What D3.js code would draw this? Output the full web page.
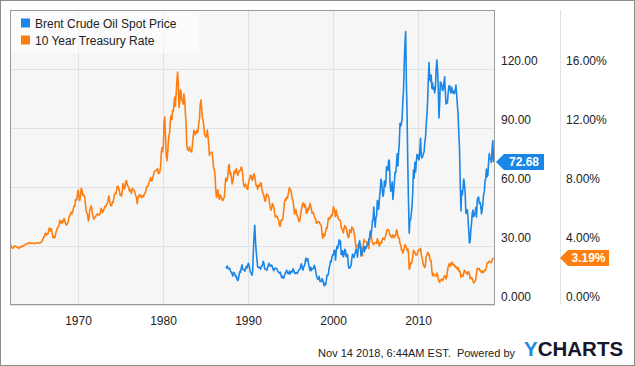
<!DOCTYPE html>
<html>
  <head>
    <meta charset="utf-8">
    <script src="https://d3js.org/d3.v7.min.js"></script>
    <title>Brent vs 10 Year Treasury</title>
    <style>
      body {
        margin: 0px;
        background: #ffffff;
      }
      text {
        font-family: 'Liberation Sans', Arial, sans-serif;
      }
      .tick text {
        fill: #222222;
        font-size: 12px;
      }
      .legend-text {
        fill: #222222;
        font-size: 12px;
      }
      .footer {
        fill: #222222;
        font-size: 11px;
        white-space: pre;
      }
      .flag-text {
        fill: #ffffff;
        font-size: 12px;
        font-weight: bold;
      }
    </style>
  </head>
  <body>
    <script>
      // monthly values, Jan 1962 .. Nov 2018 (%)
      const treasuryStartYear = 1962;
      const treasuryRate = [
        4.08, 4.04, 3.93, 3.84, 3.87, 3.91, 4.01, 3.98, 3.98, 3.93, 3.92, 3.86,
        3.83, 3.92, 3.93, 3.97, 3.93, 3.99, 4.02, 4.00, 4.08, 4.11, 4.12, 4.13,
        4.17, 4.15, 4.22, 4.23, 4.20, 4.17, 4.19, 4.19, 4.20, 4.19, 4.15, 4.18,
        4.19, 4.21, 4.21, 4.20, 4.21, 4.21, 4.20, 4.25, 4.29, 4.35, 4.45, 4.62,
        4.61, 4.83, 4.87, 4.75, 4.78, 4.81, 5.02, 5.22, 5.18, 5.01, 5.16, 4.84,
        4.58, 4.63, 4.54, 4.59, 4.85, 5.02, 5.16, 5.28, 5.30, 5.48, 5.75, 5.70,
        5.53, 5.56, 5.74, 5.64, 5.87, 5.72, 5.50, 5.42, 5.46, 5.58, 5.70, 6.03,
        6.04, 6.19, 6.30, 6.17, 6.32, 6.57, 6.72, 6.69, 7.16, 7.10, 7.14, 7.65,
        7.79, 7.24, 7.07, 7.39, 7.91, 7.84, 7.46, 7.53, 7.39, 7.33, 6.84, 6.39,
        6.24, 6.11, 5.70, 5.83, 6.39, 6.52, 6.73, 6.58, 6.14, 5.93, 5.81, 5.93,
        5.95, 6.08, 6.07, 6.19, 6.13, 6.11, 6.11, 6.21, 6.55, 6.48, 6.28, 6.36,
        6.46, 6.64, 6.71, 6.67, 6.85, 6.90, 7.13, 7.40, 7.09, 6.79, 6.73, 6.74,
        6.99, 6.96, 7.21, 7.51, 7.58, 7.54, 7.81, 8.04, 8.04, 7.90, 7.68, 7.43,
        7.50, 7.39, 7.73, 8.23, 8.06, 7.86, 8.06, 8.40, 8.43, 8.14, 8.05, 8.00,
        7.74, 7.79, 7.73, 7.56, 7.90, 7.86, 7.83, 7.77, 7.59, 7.41, 7.29, 6.87,
        7.21, 7.39, 7.46, 7.37, 7.46, 7.28, 7.33, 7.40, 7.34, 7.52, 7.58, 7.69,
        7.96, 8.03, 8.04, 8.15, 8.35, 8.46, 8.64, 8.41, 8.42, 8.64, 8.81, 9.01,
        9.10, 9.10, 9.12, 9.18, 9.25, 8.91, 8.95, 9.03, 9.33, 10.30, 10.65, 10.39,
        10.80, 12.41, 12.75, 11.47, 10.18, 9.78, 10.25, 11.10, 11.51, 11.75, 12.68, 12.84,
        12.57, 13.19, 13.12, 13.68, 14.10, 13.47, 14.28, 15.10, 15.80, 15.15, 13.39, 13.72,
        14.59, 14.43, 13.86, 13.87, 13.62, 14.30, 13.95, 13.06, 12.34, 10.91, 10.55, 10.54,
        10.46, 10.72, 10.51, 10.40, 10.38, 10.85, 11.38, 11.85, 11.65, 11.54, 11.69, 11.83,
        11.67, 11.84, 12.32, 12.63, 13.60, 13.90, 13.36, 12.72, 12.52, 12.16, 11.57, 11.50,
        11.38, 11.51, 11.86, 11.43, 10.85, 10.16, 10.31, 10.33, 10.37, 10.24, 9.78, 9.26,
        9.19, 8.70, 7.78, 7.30, 7.71, 7.80, 7.30, 7.17, 7.45, 7.43, 7.25, 7.11,
        7.08, 7.25, 7.25, 8.02, 8.61, 8.40, 8.45, 8.76, 9.42, 9.52, 8.86, 8.99,
        8.67, 8.21, 8.37, 8.72, 9.09, 8.92, 9.06, 9.26, 8.98, 8.80, 8.96, 9.11,
        9.09, 9.17, 9.36, 9.18, 8.86, 8.28, 8.02, 8.11, 8.19, 8.01, 7.87, 7.84,
        8.21, 8.47, 8.59, 8.79, 8.76, 8.48, 8.47, 8.75, 8.89, 8.72, 8.39, 8.08,
        8.09, 7.85, 8.11, 8.04, 8.07, 8.28, 8.27, 7.90, 7.65, 7.53, 7.42, 7.09,
        7.03, 7.34, 7.54, 7.48, 7.39, 7.26, 6.84, 6.59, 6.42, 6.59, 6.87, 6.77,
        6.60, 6.26, 5.98, 5.97, 6.04, 5.96, 5.81, 5.68, 5.36, 5.33, 5.72, 5.77,
        5.75, 5.97, 6.48, 6.97, 7.18, 7.10, 7.30, 7.24, 7.46, 7.74, 7.96, 7.81,
        7.78, 7.47, 7.20, 7.06, 6.63, 6.17, 6.28, 6.49, 6.20, 6.04, 5.93, 5.71,
        5.65, 5.81, 6.27, 6.51, 6.74, 6.91, 6.87, 6.64, 6.83, 6.53, 6.20, 6.30,
        6.58, 6.42, 6.69, 6.89, 6.71, 6.49, 6.22, 6.30, 6.21, 6.03, 5.88, 5.81,
        5.54, 5.57, 5.65, 5.64, 5.65, 5.50, 5.46, 5.34, 4.81, 4.53, 4.83, 4.65,
        4.72, 5.00, 5.23, 5.18, 5.54, 5.90, 5.79, 5.94, 5.92, 6.11, 6.03, 6.28,
        6.66, 6.52, 6.26, 5.99, 6.44, 6.10, 6.05, 5.83, 5.80, 5.74, 5.72, 5.24,
        5.16, 5.10, 4.89, 5.14, 5.39, 5.28, 5.24, 4.97, 4.73, 4.57, 4.65, 5.09,
        5.04, 4.91, 5.28, 5.21, 5.16, 4.93, 4.65, 4.26, 3.87, 3.94, 4.05, 4.03,
        4.05, 3.90, 3.81, 3.96, 3.57, 3.33, 3.98, 4.45, 4.27, 4.29, 4.30, 4.27,
        4.15, 4.08, 3.83, 4.35, 4.72, 4.73, 4.50, 4.28, 4.13, 4.10, 4.19, 4.23,
        4.22, 4.17, 4.50, 4.34, 4.14, 4.00, 4.18, 4.26, 4.20, 4.46, 4.54, 4.47,
        4.42, 4.57, 4.72, 4.99, 5.11, 5.11, 5.09, 4.88, 4.72, 4.73, 4.60, 4.56,
        4.76, 4.72, 4.56, 4.69, 4.75, 5.10, 5.00, 4.67, 4.52, 4.53, 4.15, 4.10,
        3.74, 3.74, 3.51, 3.68, 3.88, 4.10, 4.01, 3.89, 3.69, 3.81, 3.53, 2.42,
        2.52, 2.87, 2.82, 2.93, 3.29, 3.72, 3.56, 3.59, 3.40, 3.39, 3.40, 3.59,
        3.73, 3.69, 3.73, 3.85, 3.42, 3.20, 3.01, 2.70, 2.65, 2.54, 2.76, 3.29,
        3.39, 3.58, 3.41, 3.46, 3.17, 3.00, 3.00, 2.30, 1.98, 2.15, 2.01, 1.98,
        1.97, 1.97, 2.17, 2.05, 1.80, 1.62, 1.53, 1.68, 1.72, 1.75, 1.65, 1.72,
        1.91, 1.98, 1.96, 1.76, 1.93, 2.30, 2.58, 2.74, 2.81, 2.62, 2.72, 2.90,
        2.86, 2.71, 2.72, 2.71, 2.56, 2.60, 2.54, 2.42, 2.53, 2.30, 2.33, 2.21,
        1.88, 1.98, 2.04, 1.94, 2.20, 2.36, 2.32, 2.17, 2.17, 2.07, 2.26, 2.24,
        2.09, 1.78, 1.89, 1.81, 1.81, 1.64, 1.50, 1.56, 1.63, 1.76, 2.14, 2.49,
        2.43, 2.42, 2.48, 2.30, 2.30, 2.19, 2.32, 2.21, 2.20, 2.36, 2.35, 2.40,
        2.58, 2.86, 2.84, 2.87, 2.98, 2.91, 2.89, 2.89, 3.00, 3.15, 3.19
      ];

      // monthly values, May 1987 .. Nov 2018 (USD)
      const brentStartYear = 1987;
      const brentStartMonth = 4; // 0-based, May
      const brentPrice = [
        18.58, 18.86, 19.86, 18.98, 18.31, 18.76, 18.34, 16.87,
        16.73, 15.73, 14.73, 16.60, 16.31, 15.49, 14.37, 14.68, 13.07, 12.41, 13.19, 15.55,
        17.08, 16.73, 18.95, 20.40, 18.38, 17.87, 17.90, 17.17, 18.40, 19.54, 18.80, 20.30,
        21.25, 19.81, 18.39, 16.61, 16.35, 15.10, 17.17, 27.17, 35.00, 40.50, 32.82, 27.28,
        23.57, 19.54, 19.08, 19.18, 19.19, 18.17, 19.40, 19.77, 20.50, 22.21, 21.11, 18.41,
        18.16, 18.05, 17.63, 18.92, 19.89, 21.16, 20.24, 19.74, 20.27, 20.27, 19.16, 18.01,
        17.44, 18.55, 18.63, 18.60, 18.50, 17.64, 16.86, 16.67, 16.08, 16.71, 15.25, 13.84,
        14.63, 13.85, 13.69, 15.12, 16.20, 16.61, 17.70, 16.79, 15.87, 16.00, 17.27, 15.74,
        16.61, 17.19, 16.85, 18.41, 17.74, 16.55, 15.97, 16.37, 16.46, 16.09, 16.74, 17.70,
        18.02, 18.22, 20.24, 20.88, 18.76, 17.72, 19.27, 19.81, 21.43, 23.81, 22.41, 23.34,
        23.54, 20.67, 19.07, 17.46, 19.20, 17.53, 18.55, 18.50, 18.66, 20.19, 19.08, 17.12,
        15.23, 13.83, 13.00, 13.36, 14.52, 11.95, 12.01, 11.92, 13.38, 12.65, 11.04, 9.75,
        11.06, 10.21, 12.38, 15.27, 15.07, 15.78, 18.87, 20.17, 22.43, 21.96, 24.53, 25.48,
        25.51, 27.78, 27.49, 22.76, 27.74, 29.80, 28.68, 30.20, 33.14, 30.96, 32.55, 25.66,
        25.62, 27.50, 24.50, 25.66, 28.31, 27.85, 24.61, 25.68, 25.62, 20.54, 18.80, 18.71,
        19.42, 20.28, 23.70, 25.73, 25.35, 24.08, 25.74, 26.65, 28.40, 27.54, 24.34, 28.33,
        31.18, 32.77, 30.61, 25.00, 25.86, 27.65, 28.35, 29.89, 27.11, 29.61, 28.75, 29.81,
        31.28, 30.86, 33.63, 33.59, 37.57, 35.18, 38.22, 42.74, 43.20, 49.78, 43.11, 39.60,
        44.51, 45.48, 53.10, 51.88, 48.65, 54.35, 57.52, 63.98, 62.91, 58.54, 55.24, 56.86,
        62.99, 60.21, 62.06, 70.26, 69.78, 68.56, 73.67, 73.23, 61.96, 57.81, 58.76, 62.47,
        53.68, 57.56, 62.05, 67.49, 67.21, 71.05, 76.93, 70.76, 77.17, 82.34, 92.41, 90.93,
        92.18, 94.99, 103.64, 109.07, 122.80, 133.00, 139.00, 113.24, 97.23, 71.58, 52.45, 36.50,
        43.44, 43.32, 46.54, 50.18, 57.30, 68.61, 64.44, 72.51, 67.65, 72.77, 76.66, 74.46,
        76.17, 73.75, 78.83, 84.82, 75.95, 74.76, 75.58, 77.04, 77.84, 82.67, 85.28, 91.45,
        96.52, 103.72, 114.64, 123.26, 114.99, 113.83, 116.97, 110.22, 112.83, 109.55, 110.77, 107.87,
        110.69, 119.33, 124.50, 119.75, 110.34, 95.16, 102.62, 113.36, 112.86, 111.71, 109.06, 109.49,
        112.96, 116.05, 108.47, 102.25, 102.56, 102.92, 107.93, 111.28, 111.60, 109.08, 107.79, 110.76,
        108.12, 108.90, 107.48, 107.76, 109.54, 111.80, 106.77, 101.61, 97.09, 87.43, 79.44, 62.34,
        47.76, 58.10, 55.89, 59.52, 64.08, 61.48, 56.56, 46.52, 47.62, 48.43, 44.27, 38.01,
        31.50, 32.18, 38.21, 41.58, 46.74, 48.25, 44.95, 45.84, 46.57, 49.52, 44.73, 53.31,
        54.58, 54.87, 51.59, 52.31, 50.33, 46.37, 48.48, 51.70, 56.15, 57.51, 62.71, 64.37,
        69.08, 65.32, 66.02, 72.11, 76.98, 74.41, 74.25, 72.53, 78.89, 83.50, 72.68
      ];

      const yearTicks = [1970, 1980, 1990, 2000, 2010];
      const priceTicks = [0, 30, 60, 90, 120];
      const rateTicks = [0, 4, 8, 12, 16];
      const seriesNames = ['Brent Crude Oil Spot Price', '10 Year Treasury Rate'];
      const seriesColors = ['#1a87e6', '#fe7f10'];

      const W = 635, H = 366;
      const plot = { left: 10, top: 10, right: 495, bottom: 305 };

      const treasury = treasuryRate.map((v, i) => ({ t: treasuryStartYear + (i + 0.5) / 12, v }));
      const brent = brentPrice.map((v, i) => ({ t: brentStartYear + (brentStartMonth + i + 0.5) / 12, v }));

      const svg = d3.select('body').append('svg')
        .attr('width', W)
        .attr('height', H);

      // outer frame
      svg.append('rect')
        .attr('x', 0.5).attr('y', 0.5)
        .attr('width', W - 1).attr('height', H - 1)
        .attr('fill', '#ffffff')
        .attr('stroke', '#8c8c8c');

      const xScale = d3.scaleLinear()
        .domain([1962.0, 2019.05])
        .range([plot.left, plot.right]);
      const yPrice = d3.scaleLinear()
        .domain([0, 150])
        .range([plot.bottom, plot.top]);
      const yRate = d3.scaleLinear()
        .domain([0, 20])
        .range([plot.bottom, plot.top]);

      svg.append('rect')
        .attr('x', plot.left).attr('y', plot.top)
        .attr('width', plot.right - plot.left)
        .attr('height', plot.bottom - plot.top)
        .attr('fill', '#f6f6f6');

      // grid
      const gridG = svg.append('g');
      gridG.selectAll('.hgrid').data(priceTicks)
        .enter().append('line')
          .attr('x1', plot.left).attr('x2', plot.right)
          .attr('y1', d => Math.round(yPrice(d)) + 0.5)
          .attr('y2', d => Math.round(yPrice(d)) + 0.5)
          .attr('stroke', '#e2e2e2');
      gridG.selectAll('.vgrid').data(yearTicks)
        .enter().append('line')
          .attr('y1', plot.top).attr('y2', plot.bottom)
          .attr('x1', d => Math.round(xScale(d)) + 0.5)
          .attr('x2', d => Math.round(xScale(d)) + 0.5)
          .attr('stroke', '#e2e2e2');

      // lines
      svg.append('clipPath').attr('id', 'clip')
        .append('rect')
          .attr('x', plot.left).attr('y', plot.top)
          .attr('width', plot.right - plot.left)
          .attr('height', plot.bottom - plot.top);

      const lineG = svg.append('g').attr('clip-path', 'url(#clip)');
      lineG.append('path')
        .datum(treasury)
        .attr('fill', 'none')
        .attr('stroke', seriesColors[1])
        .attr('stroke-width', 1.6)
        .attr('stroke-linejoin', 'round')
        .attr('d', d3.line().x(d => xScale(d.t)).y(d => yRate(d.v)));
      lineG.append('path')
        .datum(brent)
        .attr('fill', 'none')
        .attr('stroke', seriesColors[0])
        .attr('stroke-width', 1.6)
        .attr('stroke-linejoin', 'round')
        .attr('d', d3.line().x(d => xScale(d.t)).y(d => yPrice(d.v)));

      // plot border
      svg.append('rect')
        .attr('x', plot.left + 0.5).attr('y', plot.top + 0.5)
        .attr('width', plot.right - plot.left - 1)
        .attr('height', plot.bottom - plot.top - 1)
        .attr('fill', 'none')
        .attr('stroke', '#9a9a9a');

      // second axis separator
      svg.append('line')
        .attr('x1', 560.5).attr('x2', 560.5)
        .attr('y1', plot.top).attr('y2', plot.bottom)
        .attr('stroke', '#e2e2e2');

      // axes
      const xAxis = d3.axisBottom(xScale)
        .tickValues(yearTicks)
        .tickFormat(d3.format('d'))
        .tickSize(0)
        .tickPadding(11);
      const xAxisG = svg.append('g')
        .attr('transform', `translate(0,${plot.bottom})`)
        .call(xAxis);
      xAxisG.select('.domain').remove();

      const priceAxis = d3.axisRight(yPrice)
        .tickValues(priceTicks)
        .tickFormat(d => d === 0 ? '0.000' : d3.format('.2f')(d))
        .tickSize(0)
        .tickPadding(0);
      const priceAxisG = svg.append('g')
        .attr('transform', `translate(501,0)`)
        .call(priceAxis);
      priceAxisG.select('.domain').remove();
      priceAxisG.selectAll('.tick text').attr('dy', '-0.38em');

      const rateAxis = d3.axisRight(yRate)
        .tickValues(rateTicks)
        .tickFormat(d => d3.format('.2f')(d) + '%')
        .tickSize(0)
        .tickPadding(0);
      const rateAxisG = svg.append('g')
        .attr('transform', `translate(566,0)`)
        .call(rateAxis);
      rateAxisG.select('.domain').remove();
      rateAxisG.selectAll('.tick text').attr('dy', '-0.38em');

      // last-value flags
      function flag(x0, yc, w, color, label) {
        const h = 8;
        svg.append('path')
          .attr('d', `M${x0},${yc} L${x0 + 8},${yc - h} L${x0 + w},${yc - h} L${x0 + w},${yc + h} L${x0 + 8},${yc + h} Z`)
          .attr('fill', color);
        svg.append('text')
          .attr('class', 'flag-text')
          .attr('x', x0 + 8 + (w - 8) / 2)
          .attr('y', yc)
          .attr('dy', '0.36em')
          .attr('text-anchor', 'middle')
          .text(label);
      }
      const lastBrent = brent[brent.length - 1];
      const lastRate = treasury[treasury.length - 1];
      flag(496, yPrice(lastBrent.v), 48, seriesColors[0], d3.format('.2f')(lastBrent.v));
      flag(560, yRate(lastRate.v), 49, seriesColors[1], d3.format('.2f')(lastRate.v) + '%');

      // legend
      const legendG = svg.append('g');
      legendG.append('rect')
        .attr('x', plot.left + 1).attr('y', plot.top + 1)
        .attr('width', 188).attr('height', 42)
        .attr('fill', '#ffffff')
        .attr('fill-opacity', 0.6);
      seriesNames.forEach((name, i) => {
        legendG.append('rect')
          .attr('x', 21).attr('y', 18.5 + i * 17)
          .attr('width', 9).attr('height', 9)
          .attr('fill', seriesColors[i]);
        legendG.append('text')
          .attr('class', 'legend-text')
          .attr('x', 35).attr('y', 27.5 + i * 17)
          .text(name);
      });

      // footer
      svg.append('text')
        .attr('class', 'footer')
        .attr('x', 515).attr('y', 357)
        .attr('text-anchor', 'end')
        .text('Nov 14 2018, 6:44AM EST.  Powered by');
      const logo = svg.append('text')
        .attr('x', 524).attr('y', 356)
        .style('font-size', '20.5px')
        .style('font-weight', 'bold');
      logo.append('tspan').attr('fill', '#1a8be3').text('Y');
      logo.append('tspan').attr('fill', '#17172a').text('CHARTS');
    </script>
  </body>
</html>
